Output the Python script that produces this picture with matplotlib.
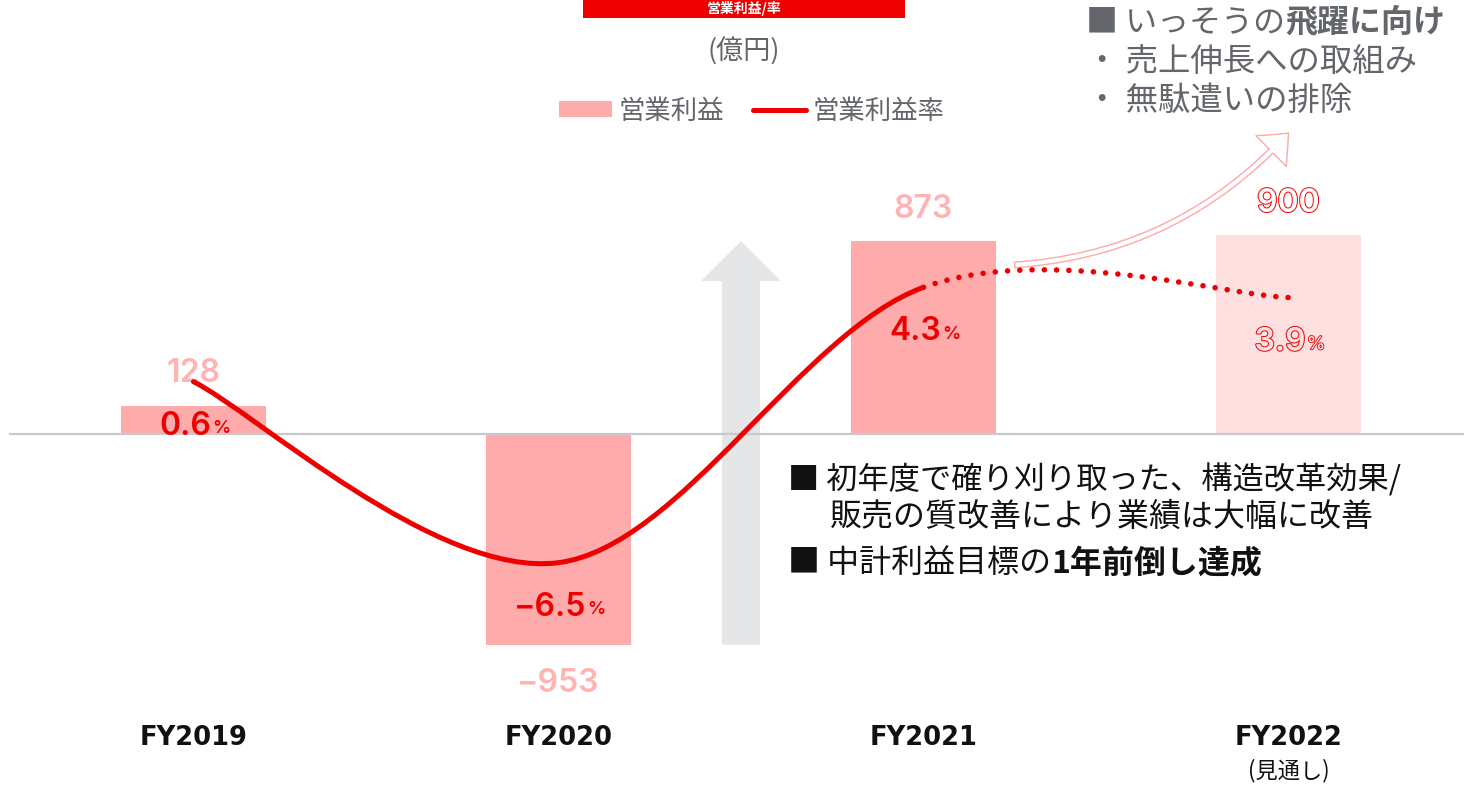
import matplotlib
matplotlib.use('Agg')
import matplotlib.pyplot as plt
import matplotlib.patheffects as pe
from matplotlib.path import Path
from matplotlib.patches import PathPatch, Patch, Rectangle, FancyArrowPatch
from matplotlib.lines import Line2D

plt.rcParams['font.family'] = ['Noto Sans CJK JP', 'DejaVu Sans']

# data
years = ['FY2019', 'FY2020', 'FY2021', 'FY2022']
year_notes = ['', '', '', '(見通し)']
profit = [128, -953, 873, 900]          # 営業利益 (億円)
margin = [0.6, -6.5, 4.3, 3.9]          # 営業利益率 (%)
forecast = [False, False, False, True]

RED = '#ee0000'
PINK = '#ffaaab'
LIGHT = '#fee0e1'
LABEL_PINK = '#ffb3b3'
GRAY = '#63676b'
NUMFONT = ['Inter', 'DejaVu Sans']

W, H = 1464, 785
fig = plt.figure(figsize=(W / 100, H / 100), dpi=100)
ax = fig.add_axes([0, 0, 1, 1])
ax.set_xlim(-0.53, 3.481)
ax.set_ylim(-1588, 1964)
ax.axis('off')
ax2 = ax.twinx()
ax2.set_ylim(-15.22, 15.57)
ax2.axis('off')

x = list(range(len(years)))

# bars
ax.bar(x, profit, width=0.397, color=[LIGHT if f else PINK for f in forecast], zorder=1)
ax.axhline(0, xmin=10 / W, color='#c6cacf', lw=1.6, zorder=3)

# big gray arrow FY2020 -> FY2021
ax.arrow(1.5, profit[1], 0, profit[2] - profit[1], width=0.104, head_width=0.219,
         head_length=181, length_includes_head=True, color='#e5e6e8', lw=0, zorder=2)

# hollow pink arrow towards the note
ax.add_patch(FancyArrowPatch((2.25, 765), (3.0, 1362), connectionstyle='arc3,rad=0.2',
                             arrowstyle='simple,head_length=1.8,head_width=3.1,tail_width=0.4',
                             mutation_scale=10, facecolor='white', edgecolor='#ffa8a8',
                             lw=1, shrinkA=0, shrinkB=0, zorder=3))

# profit labels
for i, (v, f) in enumerate(zip(profit, forecast)):
    off = 23 if v >= 0 else -28
    t = ax.annotate(str(v).replace('-', '−'), (i, v), xytext=(0, off),
                    textcoords='offset points', ha='center', va='center', fontsize=23,
                    fontweight='semibold', family=NUMFONT,
                    color='white' if f else LABEL_PINK, zorder=5)
    if f:
        t.set_path_effects([pe.withStroke(linewidth=1.4, foreground=RED)])


# margin line (smooth)
def segments(pts):
    n = len(pts)
    segs = []
    for k in range(n - 1):
        p0 = pts[max(k - 1, 0)]
        p1 = pts[k]
        p2 = pts[k + 1]
        p3 = pts[min(k + 2, n - 1)]
        c1 = (p1[0] + (p2[0] - p0[0]) / 6, p1[1] + (p2[1] - p0[1]) / 6)
        c2 = (p2[0] - (p3[0] - p1[0]) / 6, p2[1] - (p3[1] - p1[1]) / 6)
        segs.append((p1, c1, c2, p2))
    return segs


def make_path(segs):
    verts = [segs[0][0]]
    codes = [Path.MOVETO]
    for s in segs:
        verts += [s[1], s[2], s[3]]
        codes += [Path.CURVE4] * 3
    return Path(verts, codes)


segs = segments(list(zip(x, margin)))
ax2.add_patch(PathPatch(make_path(segs[:2]), fill=False, edgecolor=RED, lw=3.6,
                        capstyle='round', zorder=4))
ax2.add_patch(PathPatch(make_path(segs[2:]), fill=False, edgecolor=RED, lw=4,
                        linestyle=(0, (0.01, 2.2)), capstyle='round', zorder=4))

# margin labels
for i, (m, f) in enumerate(zip(margin, forecast)):
    t = ax2.annotate(f'{m:.1f}'.replace('-', '−'), (i, m), xytext=(-6, -32),
                     textcoords='offset points', ha='center', va='center', fontsize=23,
                     fontweight='semibold', family=NUMFONT,
                     color=LIGHT if f else RED, zorder=6)
    p = ax2.annotate('%', xy=(1, 0), xycoords=t, xytext=(1, 3), textcoords='offset points',
                     ha='left', va='bottom', fontsize=13, fontweight='semibold',
                     family=NUMFONT, color=LIGHT if f else RED, zorder=6)
    if f:
        t.set_path_effects([pe.withStroke(linewidth=1.4, foreground=RED)])
        p.set_path_effects([pe.withStroke(linewidth=1.2, foreground=RED)])

# x labels
for i, (y, note) in enumerate(zip(years, year_notes)):
    ax.text(i, 1 - 738 / H, y, transform=ax.get_xaxis_transform(), ha='center', va='center',
            fontsize=18.5, fontweight='bold', family='DejaVu Sans', color='#111111')
    if note:
        ax.text(i, 1 - 771 / H, note, transform=ax.get_xaxis_transform(), ha='center',
                va='center', fontsize=16, color='#111111')


def ftext(px, py, s, **kw):
    return ax.text(px / W, 1 - py / H, s, transform=fig.transFigure, **kw)


def two_part(px, py, plain, bold, color, size):
    t = ftext(px, py, plain, color=color, fontsize=size, ha='left', va='center')
    ax.annotate(bold, xy=(1, 0.5), xycoords=t, ha='left', va='center', color=color,
                fontsize=size, fontweight='bold')


# title box (top edge of the slide)
fig.add_artist(Rectangle((583 / W, 1 - 18 / H), (905 - 583) / W, 18 / H + 0.01,
                         transform=fig.transFigure, facecolor=RED, edgecolor='none'))
fig.text(744 / W, 1 - 9 / H, '営業利益/率', color='white', fontweight='bold', fontsize=10,
         ha='center', va='center')

ftext(744, 52, '(億円)', color=GRAY, fontsize=19.5, ha='center', va='center')

handles = [Patch(facecolor=PINK, edgecolor='none', label='営業利益'),
           Line2D([], [], color=RED, lw=3.6, solid_capstyle='round', label='営業利益率')]
fig.legend(handles=handles, loc='center', bbox_to_anchor=(752 / W, 1 - 111 / H), ncol=2,
           frameon=False, fontsize=19, labelcolor=GRAY, handlelength=2.0, handleheight=0.57,
           handletextpad=0.25, columnspacing=1.1, borderpad=0, borderaxespad=0)

# notes
two_part(1086, 22, '■ いっそうの', '飛躍に向け', GRAY, 23)
ftext(1086, 62, '・ 売上伸長への取組み', color=GRAY, fontsize=23.3, ha='left', va='center')
ftext(1086, 101, '・ 無駄遣いの排除', color=GRAY, fontsize=23.3, ha='left', va='center')

ftext(788, 480, '■ 初年度で確り刈り取った、構造改革効果/', color='#111111', fontsize=22.5,
      ha='left', va='center')
ftext(830, 517, '販売の質改善により業績は大幅に改善', color='#111111', fontsize=23,
      ha='left', va='center')
two_part(788, 563, '■ 中計利益目標の', '1年前倒し達成', '#111111', 23)

fig.savefig('out.png', dpi=100)
